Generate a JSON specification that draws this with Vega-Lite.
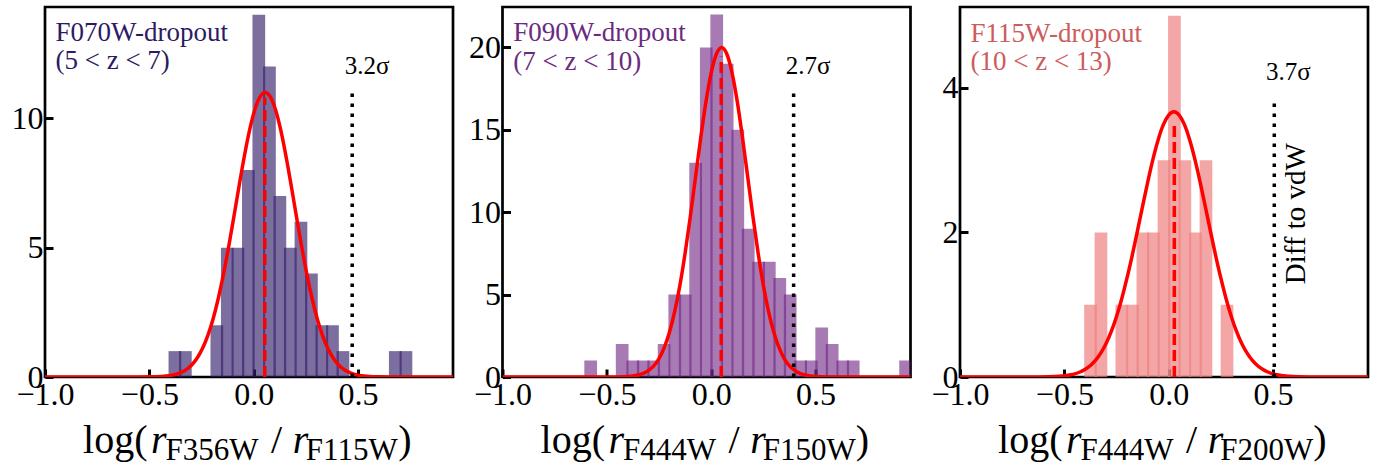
{
  "$schema": "https://vega.github.io/schema/vega-lite/v6.json",
  "autosize": "pad",
  "padding": {"left": 9, "top": 5, "right": 5, "bottom": 5},
  "spacing": 49.5,
  "bounds": "flush",
  "config": {
    "view": {"stroke": "black", "strokeWidth": 2.7},
    "font": "Liberation Serif",
    "axis": {"labelFont": "Liberation Serif", "labelFontSize": 32, "labelColor": "black", "tickColor": "black", "tickWidth": 3, "tickSize": -8, "domain": false, "grid": false, "zindex": 1, "labelPadding": 10, "labelFlush": false, "labelOverlap": false}
  },
  "datasets": {
    "b1": [
      {"lo": -0.408, "hi": -0.347, "n": 1}, {"lo": -0.358, "hi": -0.297, "n": 1},
      {"lo": -0.207, "hi": -0.146, "n": 2}, {"lo": -0.157, "hi": -0.096, "n": 5},
      {"lo": -0.106, "hi": -0.045, "n": 5}, {"lo": -0.056, "hi": 0.005, "n": 8},
      {"lo": -0.006, "hi": 0.055, "n": 14}, {"lo": 0.045, "hi": 0.106, "n": 12},
      {"lo": 0.095, "hi": 0.156, "n": 7}, {"lo": 0.145, "hi": 0.206, "n": 5},
      {"lo": 0.196, "hi": 0.257, "n": 6}, {"lo": 0.246, "hi": 0.307, "n": 4},
      {"lo": 0.296, "hi": 0.357, "n": 2}, {"lo": 0.347, "hi": 0.408, "n": 2},
      {"lo": 0.397, "hi": 0.458, "n": 1}, {"lo": 0.648, "hi": 0.709, "n": 1},
      {"lo": 0.699, "hi": 0.760, "n": 1}
    ],
    "b2": [
      {"lo": -0.608, "hi": -0.547, "n": 1}, {"lo": -0.457, "hi": -0.396, "n": 2},
      {"lo": -0.406, "hi": -0.345, "n": 1}, {"lo": -0.356, "hi": -0.295, "n": 1},
      {"lo": -0.306, "hi": -0.245, "n": 1}, {"lo": -0.256, "hi": -0.195, "n": 2},
      {"lo": -0.205, "hi": -0.144, "n": 5}, {"lo": -0.155, "hi": -0.094, "n": 5},
      {"lo": -0.105, "hi": -0.044, "n": 13}, {"lo": -0.054, "hi": 0.007, "n": 20},
      {"lo": -0.004, "hi": 0.057, "n": 22}, {"lo": 0.046, "hi": 0.107, "n": 19},
      {"lo": 0.097, "hi": 0.158, "n": 15}, {"lo": 0.147, "hi": 0.208, "n": 9},
      {"lo": 0.197, "hi": 0.258, "n": 7}, {"lo": 0.248, "hi": 0.309, "n": 7},
      {"lo": 0.298, "hi": 0.359, "n": 6}, {"lo": 0.348, "hi": 0.409, "n": 5},
      {"lo": 0.398, "hi": 0.459, "n": 1}, {"lo": 0.449, "hi": 0.510, "n": 1},
      {"lo": 0.499, "hi": 0.560, "n": 3}, {"lo": 0.549, "hi": 0.610, "n": 2},
      {"lo": 0.600, "hi": 0.661, "n": 1}, {"lo": 0.650, "hi": 0.711, "n": 1},
      {"lo": 0.901, "hi": 0.962, "n": 1}
    ],
    "b3": [
      {"lo": -0.405, "hi": -0.344, "n": 1}, {"lo": -0.355, "hi": -0.294, "n": 2},
      {"lo": -0.255, "hi": -0.194, "n": 1}, {"lo": -0.204, "hi": -0.143, "n": 1},
      {"lo": -0.154, "hi": -0.093, "n": 2}, {"lo": -0.104, "hi": -0.043, "n": 2},
      {"lo": -0.053, "hi": 0.008, "n": 3}, {"lo": -0.003, "hi": 0.058, "n": 5},
      {"lo": 0.047, "hi": 0.108, "n": 3}, {"lo": 0.098, "hi": 0.159, "n": 2},
      {"lo": 0.148, "hi": 0.209, "n": 3}, {"lo": 0.249, "hi": 0.310, "n": 1}
    ],
    "g1": [
      {"x": -1.0, "y": 0}, {"x": -0.545, "y": 0.001}, {"x": -0.495, "y": 0.005}, {"x": -0.445, "y": 0.019},
      {"x": -0.42, "y": 0.035}, {"x": -0.395, "y": 0.063}, {"x": -0.37, "y": 0.110}, {"x": -0.345, "y": 0.186},
      {"x": -0.32, "y": 0.304}, {"x": -0.295, "y": 0.483}, {"x": -0.27, "y": 0.743}, {"x": -0.245, "y": 1.107},
      {"x": -0.22, "y": 1.598}, {"x": -0.195, "y": 2.233}, {"x": -0.17, "y": 3.024}, {"x": -0.145, "y": 3.965},
      {"x": -0.12, "y": 5.036}, {"x": -0.095, "y": 6.196}, {"x": -0.07, "y": 7.384}, {"x": -0.045, "y": 8.523},
      {"x": -0.02, "y": 9.530}, {"x": 0.005, "y": 10.320}, {"x": 0.03, "y": 10.826}, {"x": 0.055, "y": 11.0},
      {"x": 0.08, "y": 10.826}, {"x": 0.105, "y": 10.320}, {"x": 0.13, "y": 9.530}, {"x": 0.155, "y": 8.523},
      {"x": 0.18, "y": 7.384}, {"x": 0.205, "y": 6.196}, {"x": 0.23, "y": 5.036}, {"x": 0.255, "y": 3.965},
      {"x": 0.28, "y": 3.024}, {"x": 0.305, "y": 2.233}, {"x": 0.33, "y": 1.598}, {"x": 0.355, "y": 1.107},
      {"x": 0.38, "y": 0.743}, {"x": 0.405, "y": 0.483}, {"x": 0.43, "y": 0.304}, {"x": 0.455, "y": 0.186},
      {"x": 0.48, "y": 0.110}, {"x": 0.505, "y": 0.063}, {"x": 0.53, "y": 0.035}, {"x": 0.555, "y": 0.019},
      {"x": 0.605, "y": 0.005}, {"x": 0.655, "y": 0.001}, {"x": 0.955, "y": 0}
    ],
    "g2": [
      {"x": -1.0, "y": 0}, {"x": -0.45, "y": 0.006}, {"x": -0.4, "y": 0.03}, {"x": -0.375, "y": 0.06},
      {"x": -0.35, "y": 0.12}, {"x": -0.325, "y": 0.22}, {"x": -0.3, "y": 0.40}, {"x": -0.275, "y": 0.68},
      {"x": -0.25, "y": 1.12}, {"x": -0.225, "y": 1.78}, {"x": -0.2, "y": 2.71}, {"x": -0.175, "y": 3.96},
      {"x": -0.15, "y": 5.56}, {"x": -0.125, "y": 7.51}, {"x": -0.1, "y": 9.74}, {"x": -0.075, "y": 12.13},
      {"x": -0.05, "y": 14.52}, {"x": -0.025, "y": 16.71}, {"x": 0.0, "y": 18.46}, {"x": 0.025, "y": 19.60},
      {"x": 0.05, "y": 20.0}, {"x": 0.075, "y": 19.60}, {"x": 0.1, "y": 18.46}, {"x": 0.125, "y": 16.71},
      {"x": 0.15, "y": 14.52}, {"x": 0.175, "y": 12.13}, {"x": 0.2, "y": 9.74}, {"x": 0.225, "y": 7.51},
      {"x": 0.25, "y": 5.56}, {"x": 0.275, "y": 3.96}, {"x": 0.3, "y": 2.71}, {"x": 0.325, "y": 1.78},
      {"x": 0.35, "y": 1.12}, {"x": 0.375, "y": 0.68}, {"x": 0.4, "y": 0.40}, {"x": 0.425, "y": 0.22},
      {"x": 0.45, "y": 0.12}, {"x": 0.475, "y": 0.06}, {"x": 0.5, "y": 0.03}, {"x": 0.55, "y": 0.006},
      {"x": 0.955, "y": 0}
    ],
    "g3": [
      {"x": -1.0, "y": 0}, {"x": -0.625, "y": 0.001}, {"x": -0.575, "y": 0.003}, {"x": -0.525, "y": 0.010},
      {"x": -0.475, "y": 0.028}, {"x": -0.45, "y": 0.043}, {"x": -0.425, "y": 0.069}, {"x": -0.4, "y": 0.106},
      {"x": -0.375, "y": 0.159}, {"x": -0.35, "y": 0.233}, {"x": -0.325, "y": 0.333}, {"x": -0.3, "y": 0.464},
      {"x": -0.275, "y": 0.631}, {"x": -0.25, "y": 0.837}, {"x": -0.225, "y": 1.083}, {"x": -0.2, "y": 1.367},
      {"x": -0.175, "y": 1.681}, {"x": -0.15, "y": 2.018}, {"x": -0.125, "y": 2.365}, {"x": -0.1, "y": 2.705},
      {"x": -0.075, "y": 3.019}, {"x": -0.05, "y": 3.288}, {"x": -0.025, "y": 3.495}, {"x": 0.0, "y": 3.625},
      {"x": 0.025, "y": 3.67}, {"x": 0.05, "y": 3.625}, {"x": 0.075, "y": 3.495}, {"x": 0.1, "y": 3.288},
      {"x": 0.125, "y": 3.019}, {"x": 0.15, "y": 2.705}, {"x": 0.175, "y": 2.365}, {"x": 0.2, "y": 2.018},
      {"x": 0.225, "y": 1.681}, {"x": 0.25, "y": 1.367}, {"x": 0.275, "y": 1.083}, {"x": 0.3, "y": 0.837},
      {"x": 0.325, "y": 0.631}, {"x": 0.35, "y": 0.464}, {"x": 0.375, "y": 0.333}, {"x": 0.4, "y": 0.233},
      {"x": 0.425, "y": 0.159}, {"x": 0.45, "y": 0.106}, {"x": 0.475, "y": 0.069}, {"x": 0.5, "y": 0.043},
      {"x": 0.525, "y": 0.028}, {"x": 0.575, "y": 0.010}, {"x": 0.625, "y": 0.003}, {"x": 0.675, "y": 0.001},
      {"x": 0.955, "y": 0}
    ],
    "one": [{}]
  },
  "hconcat": [
    {
      "width": 408, "height": 370,
      "layer": [
        {"data": {"name": "b1"}, "mark": {"type": "bar", "color": "#2f1b69", "opacity": 0.63, "clip": true},
         "encoding": {
           "x": {"field": "lo", "type": "quantitative", "title": null, "scale": {"domain": [-1.0, 0.955], "nice": false, "zero": false}, "axis": {"values": [-1, -0.5, 0, 0.5], "format": ".1f", "title": null}},
           "x2": {"field": "hi"},
           "y": {"field": "n", "type": "quantitative", "title": null, "scale": {"domain": [0, 14.3], "nice": false}, "axis": {"values": [0, 5, 10], "format": "d", "title": null}},
           "y2": {"datum": 0}}},
        {"data": {"name": "g1"}, "mark": {"type": "line", "color": "#ff0000", "strokeWidth": 3.5, "interpolate": "monotone", "clip": true},
         "encoding": {"x": {"field": "x", "type": "quantitative", "title": null}, "y": {"field": "y", "type": "quantitative", "title": null}}},
        {"data": {"name": "one"}, "mark": {"type": "rule", "color": "#ff0000", "strokeWidth": 3.5, "strokeDash": [11, 5]},
         "encoding": {"x": {"datum": 0.053}, "y": {"datum": 0}, "y2": {"datum": 10.8}}},
        {"data": {"name": "one"}, "mark": {"type": "rule", "color": "black", "strokeWidth": 3.5, "strokeDash": [3.5, 6.5]},
         "encoding": {"x": {"datum": 0.472}, "y": {"datum": 0}, "y2": {"datum": 11.1}}},
        {"data": {"name": "one"}, "mark": {"type": "text", "text": "3.2σ", "fontSize": 25, "align": "center", "baseline": "alphabetic", "color": "black"},
         "encoding": {"x": {"datum": 0.544}, "y": {"datum": 11.7}}},
        {"data": {"name": "one"}, "mark": {"type": "text", "text": "F070W-dropout", "fontSize": 27, "align": "left", "baseline": "alphabetic", "color": "#2e1a62"},
         "encoding": {"x": {"datum": -0.95}, "y": {"datum": 13.0}}},
        {"data": {"name": "one"}, "mark": {"type": "text", "text": "(5 < z < 7)", "fontSize": 27, "align": "left", "baseline": "alphabetic", "color": "#2e1a62"},
         "encoding": {"x": {"datum": -0.95}, "y": {"datum": 11.9}}},
        {"data": {"name": "one"}, "mark": {"type": "text", "text": "log(", "fontSize": 40, "align": "center", "baseline": "alphabetic", "dy": 76, "clip": false},
         "encoding": {"x": {"datum": -0.663}, "y": {"datum": 0}}},
        {"data": {"name": "one"}, "mark": {"type": "text", "text": "r", "fontSize": 40, "fontStyle": "italic", "align": "center", "baseline": "alphabetic", "dy": 76, "clip": false},
         "encoding": {"x": {"datum": -0.455}, "y": {"datum": 0}}},
        {"data": {"name": "one"}, "mark": {"type": "text", "text": "F356W", "fontSize": 31, "align": "center", "baseline": "alphabetic", "dy": 83, "clip": false},
         "encoding": {"x": {"datum": -0.2}, "y": {"datum": 0}}},
        {"data": {"name": "one"}, "mark": {"type": "text", "text": "/", "fontSize": 40, "align": "center", "baseline": "alphabetic", "dy": 76, "clip": false},
         "encoding": {"x": {"datum": 0.11}, "y": {"datum": 0}}},
        {"data": {"name": "one"}, "mark": {"type": "text", "text": "r", "fontSize": 40, "fontStyle": "italic", "align": "center", "baseline": "alphabetic", "dy": 76, "clip": false},
         "encoding": {"x": {"datum": 0.225}, "y": {"datum": 0}}},
        {"data": {"name": "one"}, "mark": {"type": "text", "text": "F115W", "fontSize": 31, "align": "center", "baseline": "alphabetic", "dy": 83, "clip": false},
         "encoding": {"x": {"datum": 0.47}, "y": {"datum": 0}}},
        {"data": {"name": "one"}, "mark": {"type": "text", "text": ")", "fontSize": 40, "align": "center", "baseline": "alphabetic", "dy": 76, "clip": false},
         "encoding": {"x": {"datum": 0.724}, "y": {"datum": 0}}}
      ]
    },
    {
      "width": 408, "height": 370,
      "layer": [
        {"data": {"name": "b2"}, "mark": {"type": "bar", "color": "#6e2182", "opacity": 0.6, "clip": true},
         "encoding": {
           "x": {"field": "lo", "type": "quantitative", "title": null, "scale": {"domain": [-1.0, 0.955], "nice": false, "zero": false}, "axis": {"values": [-1, -0.5, 0, 0.5], "format": ".1f", "title": null}},
           "x2": {"field": "hi"},
           "y": {"field": "n", "type": "quantitative", "title": null, "scale": {"domain": [0, 22.45], "nice": false}, "axis": {"values": [0, 5, 10, 15, 20], "format": "d", "title": null}},
           "y2": {"datum": 0}}},
        {"data": {"name": "g2"}, "mark": {"type": "line", "color": "#ff0000", "strokeWidth": 3.5, "interpolate": "monotone", "clip": true},
         "encoding": {"x": {"field": "x", "type": "quantitative", "title": null}, "y": {"field": "y", "type": "quantitative", "title": null}}},
        {"data": {"name": "one"}, "mark": {"type": "rule", "color": "#ff0000", "strokeWidth": 3.5, "strokeDash": [11, 5]},
         "encoding": {"x": {"datum": 0.048}, "y": {"datum": 0}, "y2": {"datum": 19.45}}},
        {"data": {"name": "one"}, "mark": {"type": "rule", "color": "black", "strokeWidth": 3.5, "strokeDash": [3.5, 6.5]},
         "encoding": {"x": {"datum": 0.395}, "y": {"datum": 0}, "y2": {"datum": 17.4}}},
        {"data": {"name": "one"}, "mark": {"type": "text", "text": "2.7σ", "fontSize": 25, "align": "center", "baseline": "alphabetic", "color": "black"},
         "encoding": {"x": {"datum": 0.464}, "y": {"datum": 18.4}}},
        {"data": {"name": "one"}, "mark": {"type": "text", "text": "F090W-dropout", "fontSize": 27, "align": "left", "baseline": "alphabetic", "color": "#6b2a80"},
         "encoding": {"x": {"datum": -0.948}, "y": {"datum": 20.36}}},
        {"data": {"name": "one"}, "mark": {"type": "text", "text": "(7 < z < 10)", "fontSize": 27, "align": "left", "baseline": "alphabetic", "color": "#6b2a80"},
         "encoding": {"x": {"datum": -0.948}, "y": {"datum": 18.65}}},
        {"data": {"name": "one"}, "mark": {"type": "text", "text": "log(", "fontSize": 40, "align": "center", "baseline": "alphabetic", "dy": 76, "clip": false},
         "encoding": {"x": {"datum": -0.663}, "y": {"datum": 0}}},
        {"data": {"name": "one"}, "mark": {"type": "text", "text": "r", "fontSize": 40, "fontStyle": "italic", "align": "center", "baseline": "alphabetic", "dy": 76, "clip": false},
         "encoding": {"x": {"datum": -0.455}, "y": {"datum": 0}}},
        {"data": {"name": "one"}, "mark": {"type": "text", "text": "F444W", "fontSize": 31, "align": "center", "baseline": "alphabetic", "dy": 83, "clip": false},
         "encoding": {"x": {"datum": -0.2}, "y": {"datum": 0}}},
        {"data": {"name": "one"}, "mark": {"type": "text", "text": "/", "fontSize": 40, "align": "center", "baseline": "alphabetic", "dy": 76, "clip": false},
         "encoding": {"x": {"datum": 0.11}, "y": {"datum": 0}}},
        {"data": {"name": "one"}, "mark": {"type": "text", "text": "r", "fontSize": 40, "fontStyle": "italic", "align": "center", "baseline": "alphabetic", "dy": 76, "clip": false},
         "encoding": {"x": {"datum": 0.225}, "y": {"datum": 0}}},
        {"data": {"name": "one"}, "mark": {"type": "text", "text": "F150W", "fontSize": 31, "align": "center", "baseline": "alphabetic", "dy": 83, "clip": false},
         "encoding": {"x": {"datum": 0.47}, "y": {"datum": 0}}},
        {"data": {"name": "one"}, "mark": {"type": "text", "text": ")", "fontSize": 40, "align": "center", "baseline": "alphabetic", "dy": 76, "clip": false},
         "encoding": {"x": {"datum": 0.724}, "y": {"datum": 0}}}
      ]
    },
    {
      "width": 408, "height": 370,
      "layer": [
        {"data": {"name": "b3"}, "mark": {"type": "bar", "color": "#f08080", "opacity": 0.7, "clip": true},
         "encoding": {
           "x": {"field": "lo", "type": "quantitative", "title": null, "scale": {"domain": [-1.0, 0.955], "nice": false, "zero": false}, "axis": {"values": [-1, -0.5, 0, 0.5], "format": ".1f", "title": null}},
           "x2": {"field": "hi"},
           "y": {"field": "n", "type": "quantitative", "title": null, "scale": {"domain": [0, 5.12], "nice": false}, "axis": {"values": [0, 2, 4], "format": "d", "title": null}},
           "y2": {"datum": 0}}},
        {"data": {"name": "g3"}, "mark": {"type": "line", "color": "#ff0000", "strokeWidth": 3.5, "interpolate": "monotone", "clip": true},
         "encoding": {"x": {"field": "x", "type": "quantitative", "title": null}, "y": {"field": "y", "type": "quantitative", "title": null}}},
        {"data": {"name": "one"}, "mark": {"type": "rule", "color": "#ff0000", "strokeWidth": 3.5, "strokeDash": [11, 5]},
         "encoding": {"x": {"datum": 0.027}, "y": {"datum": 0}, "y2": {"datum": 3.51}}},
        {"data": {"name": "one"}, "mark": {"type": "rule", "color": "black", "strokeWidth": 3.5, "strokeDash": [3.5, 6.5]},
         "encoding": {"x": {"datum": 0.506}, "y": {"datum": 0}, "y2": {"datum": 3.81}}},
        {"data": {"name": "one"}, "mark": {"type": "text", "text": "3.7σ", "fontSize": 25, "align": "center", "baseline": "alphabetic", "color": "black"},
         "encoding": {"x": {"datum": 0.573}, "y": {"datum": 4.11}}},
        {"data": {"name": "one"}, "mark": {"type": "text", "text": "Diff to vdW", "fontSize": 29, "angle": 270, "align": "center", "baseline": "middle", "color": "black"},
         "encoding": {"x": {"datum": 0.608}, "y": {"datum": 2.26}}},
        {"data": {"name": "one"}, "mark": {"type": "text", "text": "F115W-dropout", "fontSize": 27, "align": "left", "baseline": "alphabetic", "color": "#cd5c5c"},
         "encoding": {"x": {"datum": -0.95}, "y": {"datum": 4.64}}},
        {"data": {"name": "one"}, "mark": {"type": "text", "text": "(10 < z < 13)", "fontSize": 27, "align": "left", "baseline": "alphabetic", "color": "#cd5c5c"},
         "encoding": {"x": {"datum": -0.95}, "y": {"datum": 4.25}}},
        {"data": {"name": "one"}, "mark": {"type": "text", "text": "log(", "fontSize": 40, "align": "center", "baseline": "alphabetic", "dy": 76, "clip": false},
         "encoding": {"x": {"datum": -0.663}, "y": {"datum": 0}}},
        {"data": {"name": "one"}, "mark": {"type": "text", "text": "r", "fontSize": 40, "fontStyle": "italic", "align": "center", "baseline": "alphabetic", "dy": 76, "clip": false},
         "encoding": {"x": {"datum": -0.455}, "y": {"datum": 0}}},
        {"data": {"name": "one"}, "mark": {"type": "text", "text": "F444W", "fontSize": 31, "align": "center", "baseline": "alphabetic", "dy": 83, "clip": false},
         "encoding": {"x": {"datum": -0.2}, "y": {"datum": 0}}},
        {"data": {"name": "one"}, "mark": {"type": "text", "text": "/", "fontSize": 40, "align": "center", "baseline": "alphabetic", "dy": 76, "clip": false},
         "encoding": {"x": {"datum": 0.11}, "y": {"datum": 0}}},
        {"data": {"name": "one"}, "mark": {"type": "text", "text": "r", "fontSize": 40, "fontStyle": "italic", "align": "center", "baseline": "alphabetic", "dy": 76, "clip": false},
         "encoding": {"x": {"datum": 0.225}, "y": {"datum": 0}}},
        {"data": {"name": "one"}, "mark": {"type": "text", "text": "F200W", "fontSize": 31, "align": "center", "baseline": "alphabetic", "dy": 83, "clip": false},
         "encoding": {"x": {"datum": 0.47}, "y": {"datum": 0}}},
        {"data": {"name": "one"}, "mark": {"type": "text", "text": ")", "fontSize": 40, "align": "center", "baseline": "alphabetic", "dy": 76, "clip": false},
         "encoding": {"x": {"datum": 0.724}, "y": {"datum": 0}}}
      ]
    }
  ]
}
